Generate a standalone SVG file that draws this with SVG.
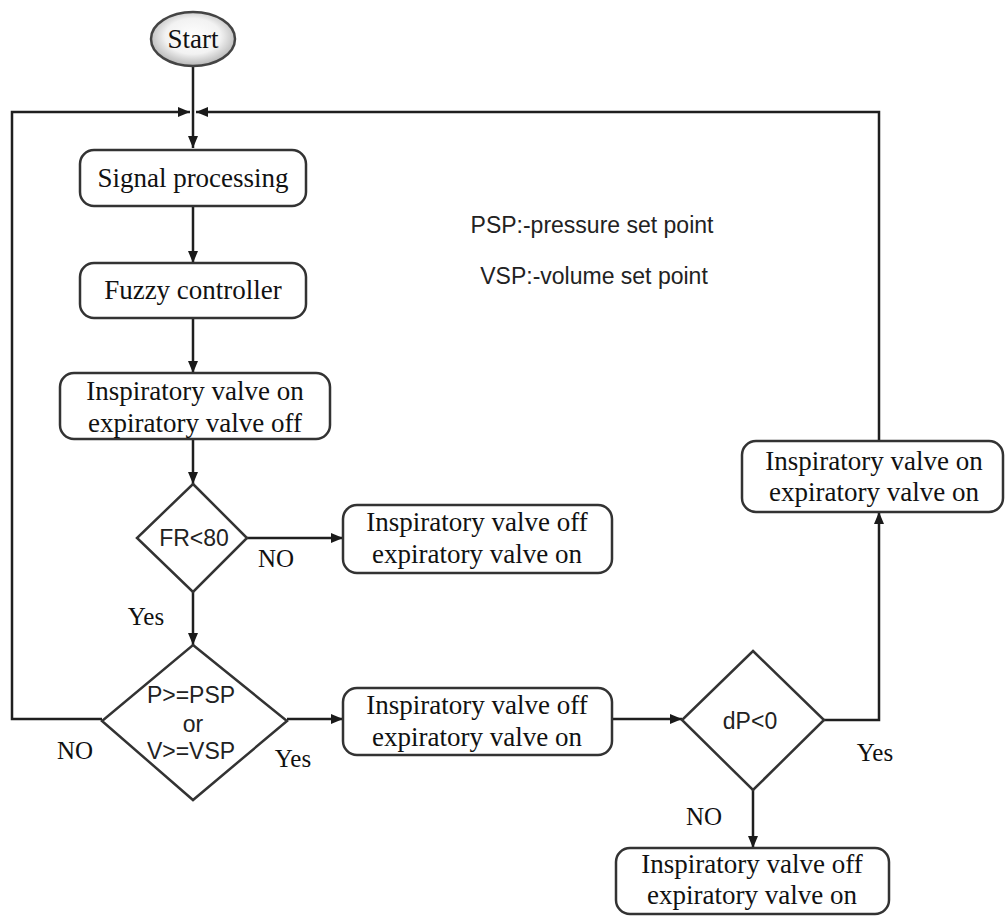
<svg xmlns="http://www.w3.org/2000/svg" width="1008" height="919" viewBox="0 0 1008 919">
<defs>
<radialGradient id="g" cx="50%" cy="45%" r="55%">
<stop offset="0" stop-color="#ffffff"/>
<stop offset="0.6" stop-color="#f2f2f2"/>
<stop offset="1" stop-color="#b5b5b5"/>
</radialGradient>
<marker id="a" markerWidth="12" markerHeight="10" refX="12" refY="5" orient="auto" markerUnits="userSpaceOnUse">
<path d="M0,0 L12,5 L0,10 Z" fill="#1a1a1a"/>
</marker>
</defs>
<style>
.box{fill:#fff;stroke:#333;stroke-width:2.5}
.c{fill:none;stroke:#1f1f1f;stroke-width:2.5}
.t{font-family:"Liberation Serif","Times New Roman",serif;font-size:27px;fill:#111;text-anchor:middle}
.s{font-family:"Liberation Sans",Arial,sans-serif;font-size:23px;fill:#222;text-anchor:middle}
.l{font-family:"Liberation Serif","Times New Roman",serif;font-size:25px;fill:#111;text-anchor:middle}
</style>
<rect width="1008" height="919" fill="#fff"/>
<g id="connectors">
<path class="c" d="M193,66 V148" marker-end="url(#a)"/>
<path class="c" d="M102,719 H12 V112 H190" marker-end="url(#a)"/>
<path class="c" d="M879,441 V112 H196" marker-end="url(#a)"/>
<path class="c" d="M193,206 V263" marker-end="url(#a)"/>
<path class="c" d="M193,318 V373" marker-end="url(#a)"/>
<path class="c" d="M193,439 V484" marker-end="url(#a)"/>
<path class="c" d="M247,538 H343" marker-end="url(#a)"/>
<path class="c" d="M193,592 V645" marker-end="url(#a)"/>
<path class="c" d="M287,719 H343" marker-end="url(#a)"/>
<path class="c" d="M612,719 H682" marker-end="url(#a)"/>
<path class="c" d="M753,790 V848" marker-end="url(#a)"/>
<path class="c" d="M824,720 H879 V512" marker-end="url(#a)"/>
</g>
<g id="start">
<ellipse cx="193" cy="39" rx="42" ry="27" fill="url(#g)" stroke="#444" stroke-width="2.5"/>
<text class="t" x="193" y="48" font-size="26">Start</text>
</g>
<g id="signal">
<rect class="box" x="80" y="150" width="226" height="56" rx="14"/>
<text class="t" x="193" y="187">Signal processing</text>
</g>
<g id="fuzzy">
<rect class="box" x="80" y="263" width="226" height="55" rx="14"/>
<text class="t" x="193" y="299">Fuzzy controller</text>
</g>
<g id="valve1">
<rect class="box" x="60" y="373" width="270" height="66" rx="14"/>
<text class="t" x="195" y="400">Inspiratory valve on</text>
<text class="t" x="195" y="432">expiratory valve off</text>
</g>
<g id="fr">
<path class="box" d="M193,484 L247,538 L193,592 L137,538 Z"/>
<text class="s" x="194" y="546">FR&lt;80</text>
</g>
<g id="valve2">
<rect class="box" x="343" y="505" width="269" height="68" rx="14"/>
<text class="t" x="477" y="531">Inspiratory valve off</text>
<text class="t" x="477" y="563">expiratory valve on</text>
</g>
<g id="pv">
<path class="box" d="M193,645 L287,721 L193,800 L102,721 Z"/>
<text class="s" x="191" y="703">P&gt;=PSP</text>
<text class="s" x="193" y="732">or</text>
<text class="s" x="191" y="759">V&gt;=VSP</text>
</g>
<g id="valve3">
<rect class="box" x="343" y="688" width="269" height="67" rx="14"/>
<text class="t" x="477" y="714">Inspiratory valve off</text>
<text class="t" x="477" y="746">expiratory valve on</text>
</g>
<g id="dp">
<path class="box" d="M753,651 L824,720 L753,790 L682,720 Z"/>
<text class="s" x="750" y="729">dP&lt;0</text>
</g>
<g id="valve4">
<rect class="box" x="616" y="848" width="273" height="66" rx="14"/>
<text class="t" x="752" y="873">Inspiratory valve off</text>
<text class="t" x="752" y="904">expiratory valve on</text>
</g>
<g id="valve5">
<rect class="box" x="742" y="441" width="261" height="71" rx="14"/>
<text class="t" x="874" y="470">Inspiratory valve on</text>
<text class="t" x="874" y="501">expiratory valve on</text>
</g>
<g id="notes">
<text class="s" x="592" y="233">PSP:-pressure set point</text>
<text class="s" x="594" y="284">VSP:-volume set point</text>
</g>
<g id="labels">
<text class="l" x="276" y="567">NO</text>
<text class="l" x="146" y="625">Yes</text>
<text class="l" x="75" y="759">NO</text>
<text class="l" x="293" y="767">Yes</text>
<text class="l" x="875" y="761">Yes</text>
<text class="l" x="704" y="825">NO</text>
</g>
</svg>
